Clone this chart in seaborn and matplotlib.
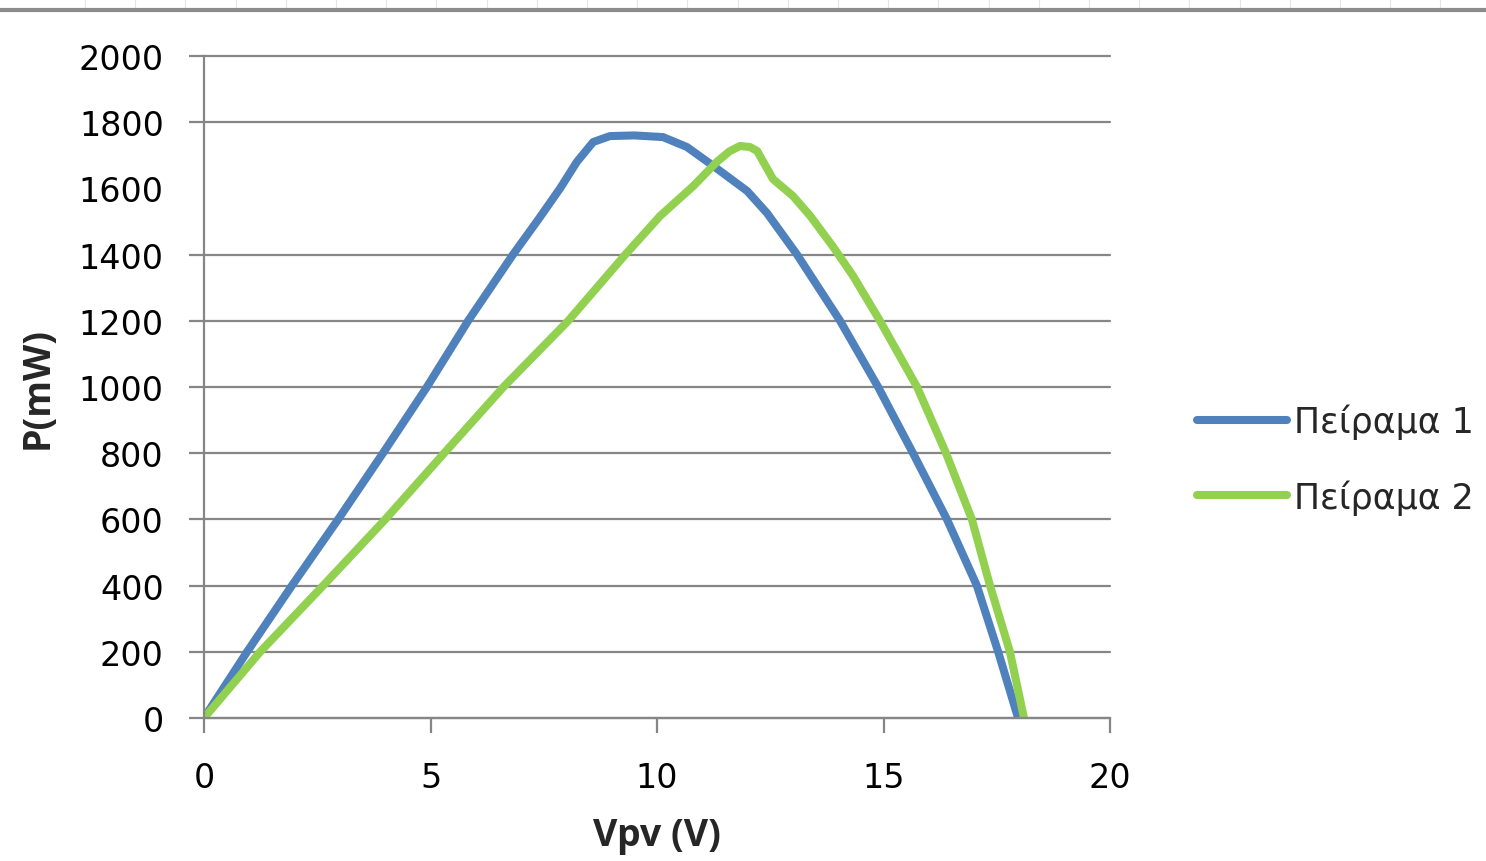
import numpy as np
import pandas as pd
import matplotlib
matplotlib.use("Agg")
import matplotlib.pyplot as plt
from matplotlib.lines import Line2D
import seaborn as sns

# Πείραμα 1 (blue) - V, P
v1 = [0, 0.95, 1.94, 2.96, 3.95, 4.92, 5.83, 6.82, 7.4, 7.86, 8.23, 8.59, 8.96, 9.5,
      10.13, 10.66, 11.24, 11.99, 12.43, 13.09, 14.04, 14.88, 15.65, 16.4, 17.06, 17.53, 17.97]
p1 = [0, 200, 400, 600, 800, 1000, 1200, 1400, 1510, 1600, 1680, 1740, 1758, 1760,
      1755, 1725, 1668, 1592, 1525, 1400, 1200, 1000, 800, 600, 400, 200, 0]

# Πείραμα 2 (green)
v2 = [0, 1.24, 2.63, 4.0, 5.3, 6.61, 8.04, 9.3, 10.07, 10.8, 11.32, 11.6, 11.83, 12.05,
      12.21, 12.56, 13.0, 13.38, 13.89, 14.33, 14.92, 15.74, 16.38, 16.95, 17.35, 17.79, 18.1]
p2 = [0, 200, 400, 600, 800, 1000, 1200, 1400, 1517, 1607, 1680, 1712, 1728, 1725,
      1713, 1628, 1577, 1517, 1423, 1335, 1200, 1000, 800, 600, 400, 200, 0]

labels = ["Πείραμα 1", "Πείραμα 2"]
colors = {"Πείραμα 1": "#4F81BD", "Πείραμα 2": "#92D050"}

x_ticks = [0, 5, 10, 15, 20]
y_ticks = list(range(0, 2001, 200))

df = pd.concat([
    pd.DataFrame({"V": v1, "P": p1, "series": labels[0]}),
    pd.DataFrame({"V": v2, "P": p2, "series": labels[1]}),
])

sns.set_theme(style="white")
plt.rcParams["font.family"] = ["DejaVu Sans"]
plt.rcParams["axes.grid"] = False

fig = plt.figure(figsize=(14.86, 8.62), dpi=100)
ax = fig.add_axes([0.1373, 0.1659, 0.6097, 0.768])

grid_col = "#868686"
sns.lineplot(data=df, x="V", y="P", hue="series", palette=colors, estimator=None,
             sort=False, linewidth=5.8, ax=ax, legend=False)
for ln in ax.get_lines():
    ln.set_solid_joinstyle("round")
    ln.set_solid_capstyle("butt")

ax.set_xlim(0, 20)
ax.set_ylim(0, 2000)
ax.set_xticks(x_ticks)
ax.set_yticks(y_ticks)

# horizontal gridlines; the 1600 one (and its tick) is missing in the original
for yv in y_ticks:
    if yv == 1600:
        continue
    ax.axhline(yv, color=grid_col, linewidth=1.6, zorder=0.5, clip_on=False)

for side in ["left", "bottom"]:
    ax.spines[side].set_color(grid_col)
    ax.spines[side].set_linewidth(1.6)
ax.spines["right"].set_visible(False)
ax.spines["top"].set_visible(False)

ax.tick_params(axis="both", direction="out", length=11, width=1.6, color=grid_col,
               labelsize=24, labelcolor="black", left=True, bottom=True)
ax.tick_params(axis="y", pad=18)
ax.tick_params(axis="x", pad=20)
ax.yaxis.get_major_ticks()[8].tick1line.set_visible(False)

ax.set_xlabel("Vpv (V)", fontsize=27, fontweight="bold", family="Open Sans")
ax.set_ylabel("P(mW)", fontsize=27, fontweight="bold", family="Open Sans")
ax.xaxis.set_label_coords(0.5, -0.148)
ax.yaxis.set_label_coords(-0.163, 0.5)

handles = [Line2D([], [], color=colors[l], linewidth=5.8) for l in labels]
ax.legend(handles, labels, loc="center left", bbox_to_anchor=(1.096, 0.391),
          frameon=False, fontsize=25, handlelength=2.6, handletextpad=0.18,
          labelspacing=1.15, borderaxespad=0, borderpad=0)

# spreadsheet edge at the top of the screenshot
ytop = 1 - 11 / 862
for xv in np.arange(85, 1486, 50.2):
    fig.add_artist(Line2D([xv / 1486] * 2, [ytop, 1], transform=fig.transFigure,
                          color="#e4e4e4", linewidth=0.8))
fig.add_artist(Line2D([0, 1], [ytop, ytop], transform=fig.transFigure,
                      color="#8c8c8c", linewidth=3))

fig.savefig("out.png", dpi=100)
